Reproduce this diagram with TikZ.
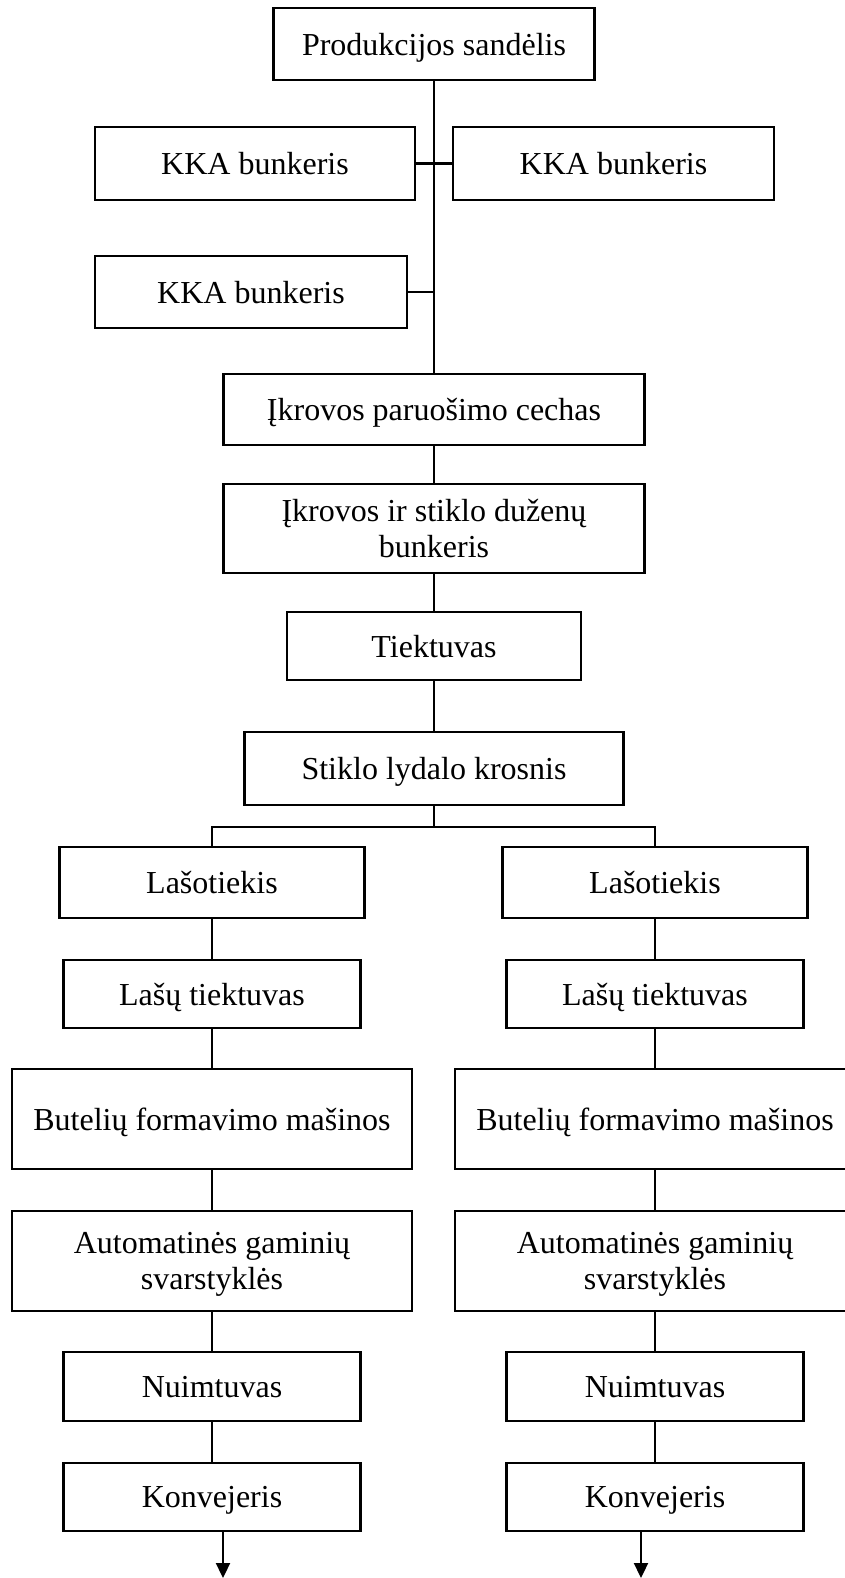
\documentclass[tikz,border=0pt]{standalone}
\usepackage{fontspec}
\setmainfont{Liberation Serif}
\usetikzlibrary{arrows.meta, positioning, calc}

\tikzset{
  blk/.style={draw, line width=2.2pt, align=center, inner sep=2pt, text depth=0pt,
              font=\fontsize{32}{36}\selectfont},
  link/.style={line width=2.2pt},
  outarrow/.style={line width=2.2pt, -{Triangle[length=15pt,width=14pt]}}
}

\begin{document}
\begin{tikzpicture}[x=1pt, y=-1pt]
  \useasboundingbox (0,0) rectangle (845,1578);
  \def\mx{434}  % main axis
  \def\wkka{320}
  \def\hrow{72}

  % upper part
  \node[blk, minimum width=321pt, minimum height=\hrow pt] (sand) at (\mx,44) {Produkcijos sandėlis};
  \node[blk, minimum width=\wkka pt, minimum height=73pt] (kkaA) at (255,163.5) {KKA bunkeris};
  \node[blk, minimum width=321pt, minimum height=73pt] (kkaB) at (613.5,163.5) {KKA bunkeris};
  \node[blk, minimum width=312pt, minimum height=\hrow pt] (kkaC) at (251,292) {KKA bunkeris};
  \node[blk, minimum width=421pt, minimum height=71pt] (cech) at (\mx,409.5) {Įkrovos paruošimo cechas};
  \node[blk, minimum width=421pt, minimum height=89pt] (bunk) at (\mx,528.5) {Įkrovos ir stiklo duženų\\bunkeris};
  \node[blk, minimum width=294pt, minimum height=68pt] (tiek) at (\mx,646) {Tiektuvas};
  \node[blk, minimum width=379pt, minimum height=73pt] (kros) at (\mx,768.5) {Stiklo lydalo krosnis};

  \draw[link] (sand.south) -- (cech.north);
  \draw[link] (kkaA.east) -- (kkaA.east -| sand.south);
  \draw[link] (kkaB.west) -- (kkaB.west -| sand.south);
  \draw[link] (kkaC.east) -- (kkaC.east -| sand.south);
  \draw[link] (cech) -- (bunk);
  \draw[link] (bunk) -- (tiek);
  \draw[link] (tiek) -- (kros);

  % two lines
  \foreach \c/\cx/\ax in {L/212/223, R/655/641}{
    \node[blk, minimum width=305pt, minimum height=71pt] (las\c) at (\cx,882.5) {Lašotiekis};
    \node[blk, minimum width=297pt, minimum height=68pt] (lt\c) at (\cx,994) {Lašų tiektuvas};
    \node[blk, minimum width=400pt, minimum height=100pt] (but\c) at (\cx,1119) {Butelių formavimo mašinos};
    \node[blk, minimum width=400pt, minimum height=100pt] (aut\c) at (\cx,1261) {Automatinės gaminių\\svarstyklės};
    \node[blk, minimum width=297pt, minimum height=69pt] (nuim\c) at (\cx,1386.5) {Nuimtuvas};
    \node[blk, minimum width=297pt, minimum height=68pt] (konv\c) at (\cx,1497) {Konvejeris};
    \coordinate (end\c) at (\ax,1578);

    \draw[link] (las\c) -- (lt\c);
    \draw[link] (lt\c) -- (but\c);
    \draw[link] (but\c) -- (aut\c);
    \draw[link] (aut\c) -- (nuim\c);
    \draw[link] (nuim\c) -- (konv\c);
    \draw[outarrow] (konv\c.south -| end\c) -- (end\c);
  }

  % split under the furnace
  \coordinate (split) at (\mx,827);
  \draw[link] (kros.south) -- (split);
  \draw[link] (lasL.north) |- (split) -| (lasR.north);
\end{tikzpicture}
\end{document}
